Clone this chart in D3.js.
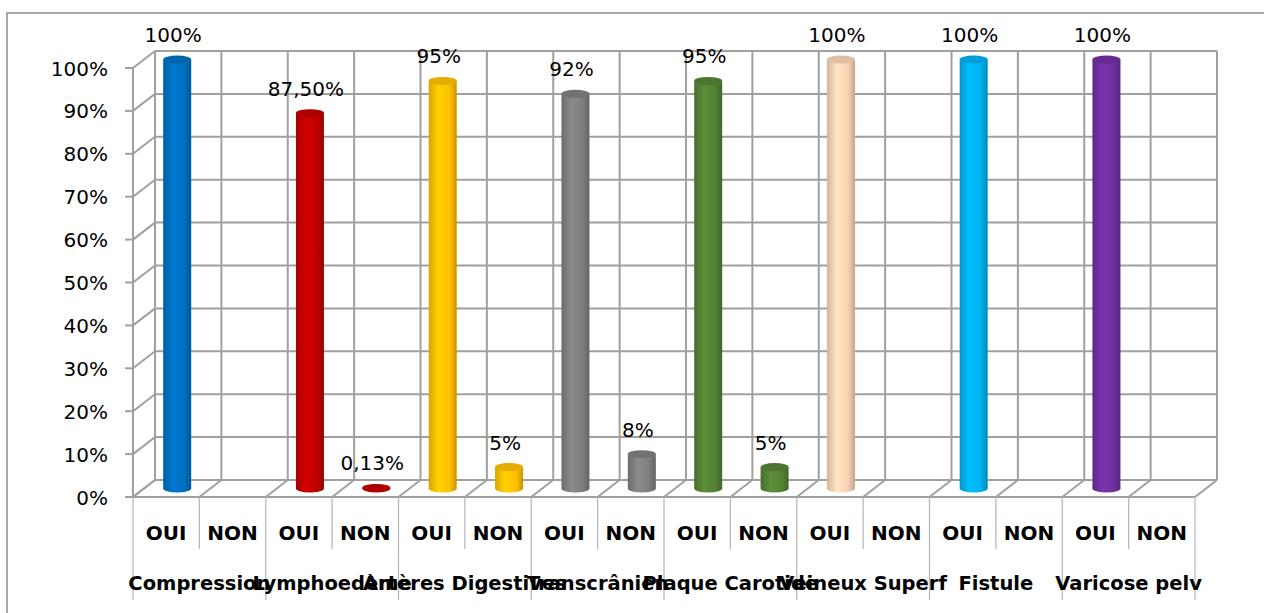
<!DOCTYPE html>
<html>
<head>
  <meta charset="utf-8">
  <title>OUI / NON</title>
  <script src="https://d3js.org/d3.v7.min.js"></script>
  <style>
    body { margin: 0; background: #fff; }
    svg { display: block; }
  </style>
</head>
<body>
  <svg id="chart" width="1264" height="613"></svg>

  <script>
    // Data
    const groups = ['Compression', 'Lymphoedème', 'Artères Digestives', 'Transcrânien',
      'Plaque Carotide', 'Veineux Superf', 'Fistule', 'Varicose pelv'];
    const answers = ['OUI', 'NON'];
    const ouiValues = [1, 0.875, 0.95, 0.92, 0.95, 1, 1, 1];
    const nonValues = [0, 0.0013, 0.05, 0.08, 0.05, 0, 0, 0];
    const dataLabels = ['100%', '', '87,50%', '0,13%', '95%', '5%', '92%', '8%',
      '95%', '5%', '100%', '', '100%', '', '100%', ''];
    const colors = ['#0070C0', '#C00000', '#FFC000', '#7F7F7F', '#548235', '#FAD2B4', '#00B0F0', '#7030A0'];
    const yTicks = [0, 0.1, 0.2, 0.3, 0.4, 0.5, 0.6, 0.7, 0.8, 0.9, 1];

    // flat list of the 16 sub categories
    const items = [];
    groups.forEach((g, gi) => {
      answers.forEach((a, ai) => {
        items.push({ group: g, gi, answer: a, value: ai === 0 ? ouiValues[gi] : nonValues[gi] });
      });
    });
    items.forEach((d, i) => { d.label = dataLabels[i]; d.i = i; });

    const svg = d3.select('#chart');
    const gridColor = '#a0a0a0';
    const depthX = 22, depthY = 17;

    // back wall scales, front = back shifted by depth
    const y = d3.scaleLinear().domain([0, 1]).range([480, 51]);
    const x = d3.scaleBand().domain(d3.range(items.length)).range([133, 1195]);
    const bw = x.bandwidth();

    // outer border
    svg.append('rect')
      .attr('x', 7).attr('y', 13).attr('width', 1300).attr('height', 700)
      .attr('fill', 'none').attr('stroke', '#8c8c8c').attr('stroke-width', 1.5);

    const grid = svg.append('g').attr('stroke', gridColor).attr('stroke-width', 2).attr('fill', 'none');

    // back wall horizontal lines
    grid.selectAll('.hline').data(yTicks).join('line')
      .attr('x1', 133 + depthX).attr('x2', 1195 + depthX)
      .attr('y1', d => y(d)).attr('y2', d => y(d));

    // back wall vertical lines
    const bounds = d3.range(items.length + 1).map(k => 133 + k * bw);
    grid.selectAll('.vline').data(bounds).join('line')
      .attr('x1', d => d + depthX).attr('x2', d => d + depthX)
      .attr('y1', y(1)).attr('y2', y(0));

    // side wall diagonals
    grid.selectAll('.sdiag').data(yTicks).join('line')
      .attr('x1', 133).attr('y1', d => y(d) + depthY)
      .attr('x2', 133 + depthX).attr('y2', d => y(d));
    grid.append('line')
      .attr('x1', 133).attr('x2', 133).attr('y1', y(1) + depthY).attr('y2', y(0) + depthY);

    // floor
    grid.selectAll('.fdiag').data(bounds).join('line')
      .attr('x1', d => d).attr('y1', y(0) + depthY)
      .attr('x2', d => d + depthX).attr('y2', y(0));
    grid.append('line')
      .attr('x1', 133).attr('x2', 1195).attr('y1', y(0) + depthY).attr('y2', y(0) + depthY);

    // ticks and labels of the value axis
    grid.selectAll('.tick').data(yTicks).join('line')
      .attr('x1', 125).attr('x2', 133)
      .attr('y1', d => y(d) + depthY).attr('y2', d => y(d) + depthY);

    svg.append('g').selectAll('text').data(yTicks).join('text')
      .attr('x', 108).attr('y', d => y(d) + depthY + 2)
      .attr('text-anchor', 'end').attr('dominant-baseline', 'middle')
      .attr('font-family', 'DejaVu Sans').attr('font-size', 20).attr('fill', '#000')
      .text(d => d3.format('.0%')(d));

    // category separators below the floor
    svg.append('g').selectAll('line').data(bounds).join('line')
      .attr('x1', d => d).attr('x2', d => d)
      .attr('y1', y(0) + depthY)
      .attr('y2', (d, k) => k % 2 === 0 ? 600 : 549)
      .attr('stroke', '#b4b4b4').attr('stroke-width', 1.2);

    // gradients for cylinders
    const defs = svg.append('defs');
    colors.forEach((c, i) => {
      const base = d3.color(c);
      const grad = defs.append('linearGradient').attr('id', 'cyl' + i)
        .attr('x1', '0%').attr('x2', '100%').attr('y1', '0%').attr('y2', '0%');
      grad.append('stop').attr('offset', '0%').attr('stop-color', base.darker(0.45));
      grad.append('stop').attr('offset', '35%').attr('stop-color', base.brighter(0.25));
      grad.append('stop').attr('offset', '75%').attr('stop-color', base);
      grad.append('stop').attr('offset', '100%').attr('stop-color', base.darker(0.7));
    });

    // cylinders at mid depth
    const barW = 28, ry = 4;
    const cx = i => x(i) + bw / 2 + depthX / 2;
    const cy = v => y(v) + depthY / 2;
    const bars = svg.append('g').selectAll('g').data(items.filter(d => d.value > 0)).join('g');
    bars.append('rect')
      .attr('x', d => cx(d.i) - barW / 2).attr('width', barW)
      .attr('y', d => cy(d.value)).attr('height', d => cy(0) - cy(d.value))
      .attr('fill', d => `url(#cyl${d.gi})`);
    bars.append('ellipse')
      .attr('cx', d => cx(d.i)).attr('cy', cy(0)).attr('rx', barW / 2).attr('ry', ry)
      .attr('fill', d => `url(#cyl${d.gi})`);
    bars.append('ellipse')
      .attr('cx', d => cx(d.i)).attr('cy', d => cy(d.value)).attr('rx', barW / 2).attr('ry', ry)
      .attr('fill', d => d3.color(colors[d.gi]).darker(0.3));

    // data labels
    svg.append('g').selectAll('text').data(items.filter(d => d.label)).join('text')
      .attr('x', d => cx(d.i) - 4).attr('y', d => cy(d.value) - 23)
      .attr('text-anchor', 'middle').attr('dominant-baseline', 'middle')
      .attr('font-family', 'DejaVu Sans').attr('font-size', 20).attr('fill', '#000')
      .text(d => d.label);

    // OUI / NON labels
    svg.append('g').selectAll('text').data(items).join('text')
      .attr('x', d => x(d.i) + bw / 2).attr('y', 534)
      .attr('text-anchor', 'middle').attr('dominant-baseline', 'middle')
      .attr('font-family', 'DejaVu Sans').attr('font-weight', 'bold').attr('font-size', 20)
      .attr('fill', '#000')
      .text(d => d.answer);

    // group labels
    svg.append('g').selectAll('text').data(groups).join('text')
      .attr('x', (d, gi) => x(gi * 2) + bw)
      .attr('y', 584)
      .attr('text-anchor', 'middle').attr('dominant-baseline', 'middle')
      .attr('font-family', 'DejaVu Sans').attr('font-weight', 'bold').attr('font-size', 19.5)
      .attr('fill', '#000')
      .text(d => d);
  </script>
</body>
</html>
